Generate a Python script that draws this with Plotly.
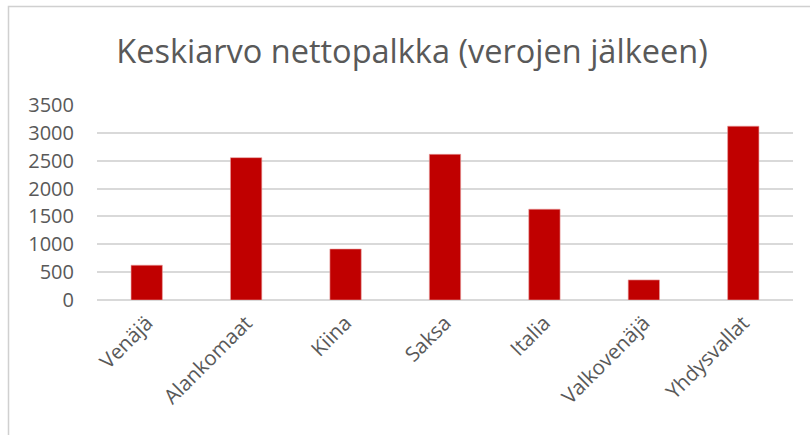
import plotly.graph_objects as go

categories = ["Venäjä", "Alankomaat", "Kiina", "Saksa", "Italia", "Valkovenäjä", "Yhdysvallat"]
values = [625, 2555, 915, 2615, 1630, 360, 3120]
y_ticks = [0, 500, 1000, 1500, 2000, 2500, 3000, 3500]

W, H = 810, 435
L, R, T, B = 97, 17, 105, 135
pw = W - L - R
ph = H - T - B

fig = go.Figure(go.Bar(
    x=categories, y=values,
    marker=dict(color="#c00000", line=dict(color="#e8a0a0", width=0.6)),
    width=0.315,
))

font = "Open Sans"
fig.update_layout(
    width=W, height=H,
    margin=dict(l=L, r=R, t=T, b=B),
    paper_bgcolor="white", plot_bgcolor="white",
    showlegend=False,
    title=dict(text="Keskiarvo nettopalkka (verojen jälkeen)",
               x=412 / W, xref="container", xanchor="center",
               y=1 - 52 / H, yref="container", yanchor="middle",
               font=dict(family=font, size=32.5, color="#595959")),
    xaxis=dict(tickangle=-45, tickfont=dict(family=font, size=20.5, color="#595959"),
               showgrid=False, showline=False, ticks="", ticklabelstandoff=6),
    yaxis=dict(range=[0, 3500], tickvals=y_ticks, showgrid=True, gridcolor="#d9d9d9",
               gridwidth=1.5, zeroline=True, zerolinecolor="#d9d9d9", zerolinewidth=1.5,
               tickfont=dict(family=font, size=20, color="#595959"),
               ticklabelstandoff=22, ticks=""),
    shapes=[dict(type="rect", xref="paper", yref="paper",
                 x0=(8.5 - L) / pw, x1=(W + 20 - L) / pw,
                 y0=-(B + 20) / ph, y1=(H - 6.5 - B) / ph,
                 line=dict(color="#d0d0d0", width=1.5), fillcolor="rgba(0,0,0,0)",
                 layer="below")],
)

fig.write_html("out.html", config={"displayModeBar": False},
               post_script="document.body.style.margin='0';document.body.style.overflow='hidden';")
